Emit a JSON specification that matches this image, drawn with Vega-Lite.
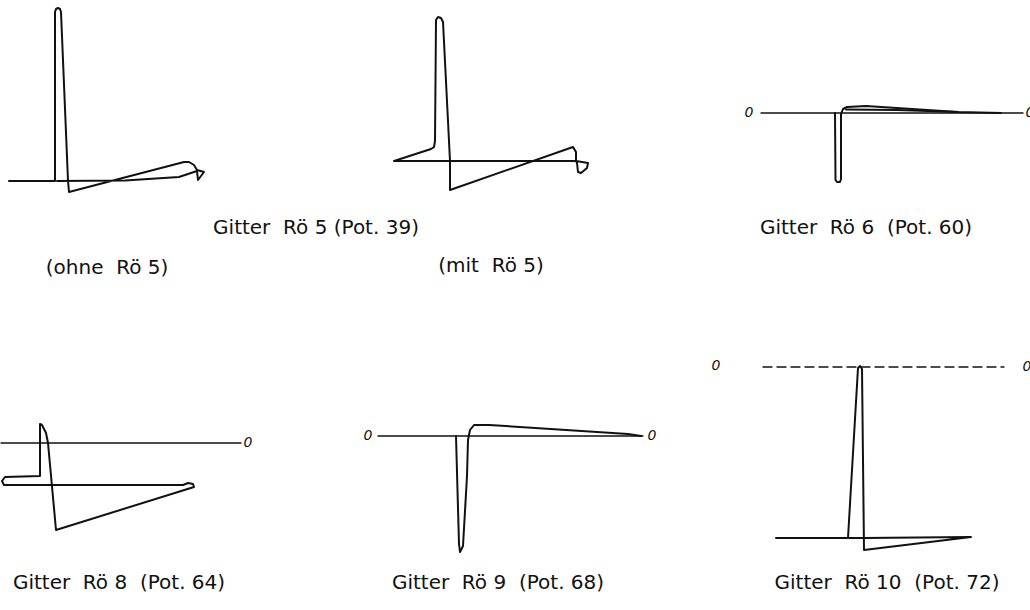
{
  "$schema": "https://vega.github.io/schema/vega-lite/v6.json",
  "background": "white",
  "padding": 0,
  "spacing": 0,
  "bounds": "flush",
  "columns": 3,
  "config": {
    "view": {"stroke": null},
    "concat": {"spacing": 0},
    "line": {"stroke": "#111", "strokeWidth": 2, "strokeJoin": "round", "strokeCap": "round"},
    "text": {"font": "DejaVu Sans", "fontSize": 20, "fill": "#111", "align": "center", "baseline": "middle"}
  },
  "data": {
    "values": [
      {"kind": "trace", "panel": "Rö 5 ohne", "path": 1, "i": 0, "t": -4.6, "v": 0},
      {"kind": "trace", "panel": "Rö 5 ohne", "path": 1, "i": 1, "t": 0, "v": 0},
      {"kind": "trace", "panel": "Rö 5 ohne", "path": 1, "i": 2, "t": 0, "v": 16.9},
      {"kind": "trace", "panel": "Rö 5 ohne", "path": 1, "i": 3, "t": 0.1, "v": 17.2},
      {"kind": "trace", "panel": "Rö 5 ohne", "path": 1, "i": 4, "t": 0.3, "v": 17.3},
      {"kind": "trace", "panel": "Rö 5 ohne", "path": 1, "i": 5, "t": 0.5, "v": 17.2},
      {"kind": "trace", "panel": "Rö 5 ohne", "path": 1, "i": 6, "t": 0.6, "v": 16.9},
      {"kind": "trace", "panel": "Rö 5 ohne", "path": 1, "i": 7, "t": 1.3, "v": 0},
      {"kind": "trace", "panel": "Rö 5 ohne", "path": 1, "i": 8, "t": 1.4, "v": -1.1},
      {"kind": "trace", "panel": "Rö 5 ohne", "path": 1, "i": 9, "t": 12.9, "v": 1.9},
      {"kind": "trace", "panel": "Rö 5 ohne", "path": 1, "i": 10, "t": 13.4, "v": 1.9},
      {"kind": "trace", "panel": "Rö 5 ohne", "path": 1, "i": 11, "t": 13.9, "v": 1.6},
      {"kind": "trace", "panel": "Rö 5 ohne", "path": 1, "i": 12, "t": 14.2, "v": 1.1},
      {"kind": "trace", "panel": "Rö 5 ohne", "path": 1, "i": 13, "t": 14.9, "v": 0.9},
      {"kind": "trace", "panel": "Rö 5 ohne", "path": 1, "i": 14, "t": 14.3, "v": 0.1},
      {"kind": "trace", "panel": "Rö 5 ohne", "path": 1, "i": 15, "t": 14.2, "v": 1.0},
      {"kind": "trace", "panel": "Rö 5 ohne", "path": 1, "i": 16, "t": 12.4, "v": 0.4},
      {"kind": "trace", "panel": "Rö 5 ohne", "path": 1, "i": 17, "t": 7.0, "v": 0.05},
      {"kind": "trace", "panel": "Rö 5 ohne", "path": 1, "i": 18, "t": 0.2, "v": 0},

      {"kind": "trace", "panel": "Rö 5 mit", "path": 1, "i": 0, "t": -4.0, "v": 0},
      {"kind": "trace", "panel": "Rö 5 mit", "path": 1, "i": 1, "t": -0.3, "v": 1.2},
      {"kind": "trace", "panel": "Rö 5 mit", "path": 1, "i": 2, "t": 0, "v": 1.4},
      {"kind": "trace", "panel": "Rö 5 mit", "path": 1, "i": 3, "t": 0.1, "v": 2.0},
      {"kind": "trace", "panel": "Rö 5 mit", "path": 1, "i": 4, "t": 0.2, "v": 14.1},
      {"kind": "trace", "panel": "Rö 5 mit", "path": 1, "i": 5, "t": 0.4, "v": 14.4},
      {"kind": "trace", "panel": "Rö 5 mit", "path": 1, "i": 6, "t": 0.7, "v": 14.3},
      {"kind": "trace", "panel": "Rö 5 mit", "path": 1, "i": 7, "t": 0.9, "v": 13.9},
      {"kind": "trace", "panel": "Rö 5 mit", "path": 1, "i": 8, "t": 1.6, "v": 0},
      {"kind": "trace", "panel": "Rö 5 mit", "path": 1, "i": 9, "t": 1.6, "v": -2.9},
      {"kind": "trace", "panel": "Rö 5 mit", "path": 1, "i": 10, "t": 13.9, "v": 1.4},
      {"kind": "trace", "panel": "Rö 5 mit", "path": 1, "i": 11, "t": 14.2, "v": 0.9},
      {"kind": "trace", "panel": "Rö 5 mit", "path": 1, "i": 12, "t": 14.2, "v": 0},
      {"kind": "trace", "panel": "Rö 5 mit", "path": 1, "i": 13, "t": 14.8, "v": -0.1},
      {"kind": "trace", "panel": "Rö 5 mit", "path": 1, "i": 14, "t": 15.4, "v": -0.2},
      {"kind": "trace", "panel": "Rö 5 mit", "path": 1, "i": 15, "t": 15.3, "v": -0.7},
      {"kind": "trace", "panel": "Rö 5 mit", "path": 1, "i": 16, "t": 14.7, "v": -1.2},
      {"kind": "trace", "panel": "Rö 5 mit", "path": 1, "i": 17, "t": 14.4, "v": -1.1},
      {"kind": "trace", "panel": "Rö 5 mit", "path": 1, "i": 18, "t": 14.3, "v": -0.2},
      {"kind": "trace", "panel": "Rö 5 mit", "path": 1, "i": 19, "t": 14.2, "v": 0},
      {"kind": "trace", "panel": "Rö 5 mit", "path": 1, "i": 20, "t": -4.0, "v": 0},

      {"kind": "trace", "panel": "Rö 6", "path": 1, "i": 0, "t": -0.2, "v": 0},
      {"kind": "trace", "panel": "Rö 6", "path": 1, "i": 1, "t": -0.15, "v": -6.7},
      {"kind": "trace", "panel": "Rö 6", "path": 1, "i": 2, "t": 0.0, "v": -6.9},
      {"kind": "trace", "panel": "Rö 6", "path": 1, "i": 3, "t": 0.3, "v": -6.9},
      {"kind": "trace", "panel": "Rö 6", "path": 1, "i": 4, "t": 0.4, "v": -6.6},
      {"kind": "trace", "panel": "Rö 6", "path": 1, "i": 5, "t": 0.4, "v": -0.1},
      {"kind": "trace", "panel": "Rö 6", "path": 1, "i": 6, "t": 0.6, "v": 0.4},
      {"kind": "trace", "panel": "Rö 6", "path": 1, "i": 7, "t": 1.0, "v": 0.6},
      {"kind": "trace", "panel": "Rö 6", "path": 1, "i": 8, "t": 2.9, "v": 0.7},
      {"kind": "trace", "panel": "Rö 6", "path": 1, "i": 9, "t": 12.1, "v": 0.1},
      {"kind": "trace", "panel": "Rö 6", "path": 1, "i": 10, "t": 16.4, "v": 0},
      {"kind": "trace", "panel": "Rö 6", "path": 2, "i": 0, "t": 0.9, "v": 0.35},
      {"kind": "trace", "panel": "Rö 6", "path": 2, "i": 1, "t": 6.0, "v": 0.3},
      {"kind": "trace", "panel": "Rö 6", "path": 2, "i": 2, "t": 12.1, "v": 0.1},

      {"kind": "trace", "panel": "Rö 8", "path": 1, "i": 0, "t": 0, "v": -3.3},
      {"kind": "trace", "panel": "Rö 8", "path": 1, "i": 1, "t": 0, "v": 1.9},
      {"kind": "trace", "panel": "Rö 8", "path": 1, "i": 2, "t": 0.2, "v": 1.8},
      {"kind": "trace", "panel": "Rö 8", "path": 1, "i": 3, "t": 0.6, "v": 1.0},
      {"kind": "trace", "panel": "Rö 8", "path": 1, "i": 4, "t": 0.8, "v": 0},
      {"kind": "trace", "panel": "Rö 8", "path": 1, "i": 5, "t": 1.6, "v": -8.7},
      {"kind": "trace", "panel": "Rö 8", "path": 1, "i": 6, "t": 15.4, "v": -4.4},
      {"kind": "trace", "panel": "Rö 8", "path": 1, "i": 7, "t": 15.3, "v": -4.1},
      {"kind": "trace", "panel": "Rö 8", "path": 1, "i": 8, "t": 14.8, "v": -4.0},
      {"kind": "trace", "panel": "Rö 8", "path": 1, "i": 9, "t": 14.3, "v": -4.2},
      {"kind": "trace", "panel": "Rö 8", "path": 1, "i": 10, "t": -3.6, "v": -4.2},
      {"kind": "trace", "panel": "Rö 8", "path": 1, "i": 11, "t": -3.8, "v": -3.8},
      {"kind": "trace", "panel": "Rö 8", "path": 1, "i": 12, "t": -3.5, "v": -3.4},
      {"kind": "trace", "panel": "Rö 8", "path": 1, "i": 13, "t": 0, "v": -3.3},

      {"kind": "trace", "panel": "Rö 9", "path": 1, "i": 0, "t": -0.2, "v": 0},
      {"kind": "trace", "panel": "Rö 9", "path": 1, "i": 1, "t": 0.1, "v": -10.8},
      {"kind": "trace", "panel": "Rö 9", "path": 1, "i": 2, "t": 0.2, "v": -11.6},
      {"kind": "trace", "panel": "Rö 9", "path": 1, "i": 3, "t": 0.5, "v": -11.0},
      {"kind": "trace", "panel": "Rö 9", "path": 1, "i": 4, "t": 0.9, "v": -4.0},
      {"kind": "trace", "panel": "Rö 9", "path": 1, "i": 5, "t": 1.0, "v": -0.4},
      {"kind": "trace", "panel": "Rö 9", "path": 1, "i": 6, "t": 1.2, "v": 0.6},
      {"kind": "trace", "panel": "Rö 9", "path": 1, "i": 7, "t": 1.6, "v": 1.1},
      {"kind": "trace", "panel": "Rö 9", "path": 1, "i": 8, "t": 3.1, "v": 1.1},
      {"kind": "trace", "panel": "Rö 9", "path": 1, "i": 9, "t": 17.0, "v": 0.2},
      {"kind": "trace", "panel": "Rö 9", "path": 1, "i": 10, "t": 18.3, "v": 0},

      {"kind": "trace", "panel": "Rö 10", "path": 1, "i": 0, "t": -8.2, "v": -17.1},
      {"kind": "trace", "panel": "Rö 10", "path": 1, "i": 1, "t": -1.0, "v": -17.1},
      {"kind": "trace", "panel": "Rö 10", "path": 1, "i": 2, "t": 0, "v": -0.1},
      {"kind": "trace", "panel": "Rö 10", "path": 1, "i": 3, "t": 0.2, "v": 0.1},
      {"kind": "trace", "panel": "Rö 10", "path": 1, "i": 4, "t": 0.4, "v": -0.2},
      {"kind": "trace", "panel": "Rö 10", "path": 1, "i": 5, "t": 0.6, "v": -18.3},
      {"kind": "trace", "panel": "Rö 10", "path": 1, "i": 6, "t": 11.3, "v": -17.0},
      {"kind": "trace", "panel": "Rö 10", "path": 1, "i": 7, "t": 0.6, "v": -17.1},
      {"kind": "trace", "panel": "Rö 10", "path": 1, "i": 8, "t": -1.0, "v": -17.1},

      {"kind": "zero", "panel": "Rö 6", "i": 0, "t": -7.6, "v": 0},
      {"kind": "zero", "panel": "Rö 6", "i": 1, "t": 18.6, "v": 0},
      {"kind": "zero", "panel": "Rö 8", "i": 0, "t": -3.9, "v": 0},
      {"kind": "zero", "panel": "Rö 8", "i": 1, "t": 20.1, "v": 0},
      {"kind": "zero", "panel": "Rö 9", "i": 0, "t": -8.0, "v": 0},
      {"kind": "zero", "panel": "Rö 9", "i": 1, "t": 18.5, "v": 0},
      {"kind": "zero", "panel": "Rö 10", "i": 0, "t": -9.5, "v": 0},
      {"kind": "zero", "panel": "Rö 10", "i": 1, "t": 14.6, "v": 0},

      {"kind": "zerolabel", "panel": "Rö 6", "t": -8.8, "v": 0, "text": "0"},
      {"kind": "zerolabel", "panel": "Rö 6", "t": 19.3, "v": 0, "text": "0"},
      {"kind": "zerolabel", "panel": "Rö 8", "t": 20.8, "v": 0, "text": "0"},
      {"kind": "zerolabel", "panel": "Rö 9", "t": -9.0, "v": 0, "text": "0"},
      {"kind": "zerolabel", "panel": "Rö 9", "t": 19.4, "v": 0, "text": "0"},
      {"kind": "zerolabel", "panel": "Rö 10", "t": -14.2, "v": 0.1, "text": "0"},
      {"kind": "zerolabel", "panel": "Rö 10", "t": 16.9, "v": 0, "text": "0"},

      {"kind": "label", "panel": "Rö 5 ohne", "t": 5.2, "v": -8.7, "text": "(ohne\u00a0 Rö 5)"},
      {"kind": "label", "panel": "Rö 5 mit", "t": -11.8, "v": -6.7, "text": "Gitter\u00a0 Rö 5 (Pot. 39)"},
      {"kind": "label", "panel": "Rö 5 mit", "t": 5.7, "v": -10.5, "text": "(mit\u00a0 Rö 5)"},
      {"kind": "label", "panel": "Rö 6", "t": 2.9, "v": -11.5, "text": "Gitter\u00a0 Rö 6\u00a0 (Pot. 60)"},
      {"kind": "label", "panel": "Rö 8", "t": 7.9, "v": -14.0, "text": "Gitter\u00a0 Rö 8\u00a0 (Pot. 64)"},
      {"kind": "label", "panel": "Rö 9", "t": 4.0, "v": -14.7, "text": "Gitter\u00a0 Rö 9\u00a0 (Pot. 68)"},
      {"kind": "label", "panel": "Rö 10", "t": 2.9, "v": -21.6, "text": "Gitter\u00a0 Rö 10\u00a0 (Pot. 72)"}
    ]
  },
  "concat": [
    {
      "width": 300,
      "height": 300,
      "encoding": {
        "x": {"field": "t", "type": "quantitative", "scale": {"domain": [-5.4, 24.6], "nice": false, "zero": false}, "axis": null},
        "y": {"field": "v", "type": "quantitative", "scale": {"domain": [-11.9, 18.1], "nice": false, "zero": false}, "axis": null}
      },
      "layer": [
        {"transform": [{"filter": "datum.kind == 'trace' && datum.panel == 'Rö 5 ohne'"}], "mark": {"type": "line"}, "encoding": {"order": {"field": "i", "type": "quantitative"}, "detail": {"field": "path", "type": "nominal"}}},
        {"transform": [{"filter": "datum.kind == 'label' && datum.panel == 'Rö 5 ohne'"}], "mark": {"type": "text"}, "encoding": {"text": {"field": "text", "type": "nominal"}}}
      ]
    },
    {
      "width": 380,
      "height": 300,
      "encoding": {
        "x": {"field": "t", "type": "quantitative", "scale": {"domain": [-13.3, 24.7], "nice": false, "zero": false}, "axis": null},
        "y": {"field": "v", "type": "quantitative", "scale": {"domain": [-13.9, 16.1], "nice": false, "zero": false}, "axis": null}
      },
      "layer": [
        {"transform": [{"filter": "datum.kind == 'trace' && datum.panel == 'Rö 5 mit'"}], "mark": {"type": "line"}, "encoding": {"order": {"field": "i", "type": "quantitative"}, "detail": {"field": "path", "type": "nominal"}}},
        {"transform": [{"filter": "datum.kind == 'label' && datum.panel == 'Rö 5 mit'"}], "mark": {"type": "text"}, "encoding": {"text": {"field": "text", "type": "nominal"}}}
      ]
    },
    {
      "width": 350,
      "height": 300,
      "encoding": {
        "x": {"field": "t", "type": "quantitative", "scale": {"domain": [-15.6, 19.4], "nice": false, "zero": false}, "axis": null},
        "y": {"field": "v", "type": "quantitative", "scale": {"domain": [-18.7, 11.3], "nice": false, "zero": false}, "axis": null}
      },
      "layer": [
        {"transform": [{"filter": "datum.kind == 'zero' && datum.panel == 'Rö 6'"}], "mark": {"type": "line", "strokeWidth": 1.3}, "encoding": {"order": {"field": "i", "type": "quantitative"}}},
        {"transform": [{"filter": "datum.kind == 'trace' && datum.panel == 'Rö 6'"}], "mark": {"type": "line"}, "encoding": {"order": {"field": "i", "type": "quantitative"}, "detail": {"field": "path", "type": "nominal"}}},
        {"transform": [{"filter": "datum.kind == 'zerolabel' && datum.panel == 'Rö 6'"}], "mark": {"type": "text", "fontSize": 14, "fontStyle": "italic"}, "encoding": {"text": {"field": "text", "type": "nominal"}}},
        {"transform": [{"filter": "datum.kind == 'label' && datum.panel == 'Rö 6'"}], "mark": {"type": "text"}, "encoding": {"text": {"field": "text", "type": "nominal"}}}
      ]
    },
    {
      "width": 300,
      "height": 310,
      "encoding": {
        "x": {"field": "t", "type": "quantitative", "scale": {"domain": [-3.9, 26.1], "nice": false, "zero": false}, "axis": null},
        "y": {"field": "v", "type": "quantitative", "scale": {"domain": [-16.7, 14.3], "nice": false, "zero": false}, "axis": null}
      },
      "layer": [
        {"transform": [{"filter": "datum.kind == 'zero' && datum.panel == 'Rö 8'"}], "mark": {"type": "line", "strokeWidth": 1.3}, "encoding": {"order": {"field": "i", "type": "quantitative"}}},
        {"transform": [{"filter": "datum.kind == 'trace' && datum.panel == 'Rö 8'"}], "mark": {"type": "line"}, "encoding": {"order": {"field": "i", "type": "quantitative"}, "detail": {"field": "path", "type": "nominal"}}},
        {"transform": [{"filter": "datum.kind == 'zerolabel' && datum.panel == 'Rö 8'"}], "mark": {"type": "text", "fontSize": 14, "fontStyle": "italic"}, "encoding": {"text": {"field": "text", "type": "nominal"}}},
        {"transform": [{"filter": "datum.kind == 'label' && datum.panel == 'Rö 8'"}], "mark": {"type": "text"}, "encoding": {"text": {"field": "text", "type": "nominal"}}}
      ]
    },
    {
      "width": 380,
      "height": 310,
      "encoding": {
        "x": {"field": "t", "type": "quantitative", "scale": {"domain": [-15.7, 22.3], "nice": false, "zero": false}, "axis": null},
        "y": {"field": "v", "type": "quantitative", "scale": {"domain": [-17.4, 13.6], "nice": false, "zero": false}, "axis": null}
      },
      "layer": [
        {"transform": [{"filter": "datum.kind == 'zero' && datum.panel == 'Rö 9'"}], "mark": {"type": "line", "strokeWidth": 1.3}, "encoding": {"order": {"field": "i", "type": "quantitative"}}},
        {"transform": [{"filter": "datum.kind == 'trace' && datum.panel == 'Rö 9'"}], "mark": {"type": "line"}, "encoding": {"order": {"field": "i", "type": "quantitative"}, "detail": {"field": "path", "type": "nominal"}}},
        {"transform": [{"filter": "datum.kind == 'zerolabel' && datum.panel == 'Rö 9'"}], "mark": {"type": "text", "fontSize": 14, "fontStyle": "italic"}, "encoding": {"text": {"field": "text", "type": "nominal"}}},
        {"transform": [{"filter": "datum.kind == 'label' && datum.panel == 'Rö 9'"}], "mark": {"type": "text"}, "encoding": {"text": {"field": "text", "type": "nominal"}}}
      ]
    },
    {
      "width": 350,
      "height": 310,
      "encoding": {
        "x": {"field": "t", "type": "quantitative", "scale": {"domain": [-17.7, 17.3], "nice": false, "zero": false}, "axis": null},
        "y": {"field": "v", "type": "quantitative", "scale": {"domain": [-24.3, 6.7], "nice": false, "zero": false}, "axis": null}
      },
      "layer": [
        {"transform": [{"filter": "datum.kind == 'zero' && datum.panel == 'Rö 10'"}], "mark": {"type": "line", "strokeWidth": 1.3, "strokeDash": [9, 5]}, "encoding": {"order": {"field": "i", "type": "quantitative"}}},
        {"transform": [{"filter": "datum.kind == 'trace' && datum.panel == 'Rö 10'"}], "mark": {"type": "line"}, "encoding": {"order": {"field": "i", "type": "quantitative"}, "detail": {"field": "path", "type": "nominal"}}},
        {"transform": [{"filter": "datum.kind == 'zerolabel' && datum.panel == 'Rö 10'"}], "mark": {"type": "text", "fontSize": 14, "fontStyle": "italic"}, "encoding": {"text": {"field": "text", "type": "nominal"}}},
        {"transform": [{"filter": "datum.kind == 'label' && datum.panel == 'Rö 10'"}], "mark": {"type": "text"}, "encoding": {"text": {"field": "text", "type": "nominal"}}}
      ]
    }
  ]
}
